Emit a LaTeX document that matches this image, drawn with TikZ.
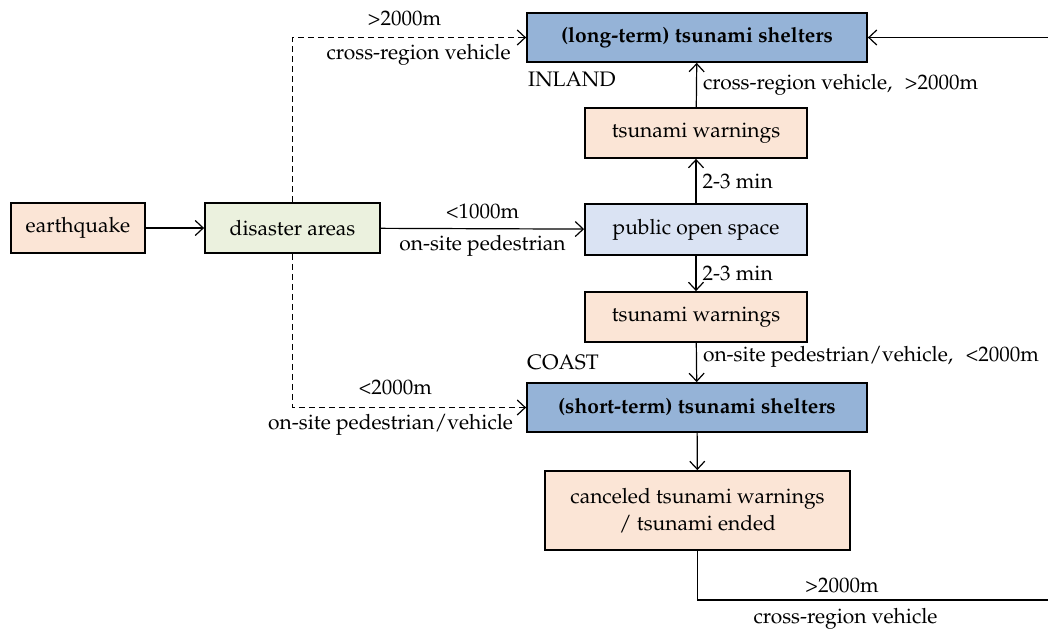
\documentclass[tikz,border=0pt]{standalone}
\usepackage[T1]{fontenc}
\renewcommand{\rmdefault}{ppl}
\usetikzlibrary{arrows.meta}
\definecolor{orfill}{HTML}{FBE5D6}
\definecolor{grfill}{HTML}{EBF1DE}
\definecolor{lbfill}{HTML}{DAE3F3}
\definecolor{shfill}{HTML}{95B3D7}
\tikzset{
  box/.style={draw=black, line width=1.8pt, inner sep=0pt, align=center, font=\fontsize{21}{27}\selectfont},
  lbl/.style={inner sep=0pt, font=\fontsize{21}{25}\selectfont},
  conn/.style={line width=1.2pt, -{Straight Barb[length=8pt,width=15pt,line width=1.2pt]}},
  dconn/.style={conn, dash pattern=on 6pt off 4pt},
}
\begin{document}
\begin{tikzpicture}[x=1pt,y=-1pt]
\useasboundingbox (0,0) rectangle (1048,635);
\node[box, fill=orfill, minimum width=134pt, minimum height=50pt] (eq) at (78,228) {earthquake};
\node[box, fill=grfill, minimum width=175pt, minimum height=50pt] (da) at (292.5,228) {disaster areas};
\node[box, fill=lbfill, minimum width=222pt, minimum height=51pt] (pos) at (696,229.5) {public open space};
\node[box, fill=orfill, minimum width=222pt, minimum height=50pt] (tw1) at (696,133) {tsunami warnings};
\node[box, fill=orfill, minimum width=222pt, minimum height=50pt] (tw2) at (696,317) {tsunami warnings};
\node[box, fill=shfill, minimum width=340pt, minimum height=49pt, font=\fontsize{21}{27}\selectfont\bfseries] (lt) at (697,37.5) {(long-term) tsunami shelters};
\node[box, fill=shfill, minimum width=340pt, minimum height=49pt, font=\fontsize{21}{27}\selectfont\bfseries] (st) at (697,407.5) {(short-term) tsunami shelters};
\node[box, fill=orfill, minimum width=305pt, minimum height=79pt] (cw) at (697.5,510.5) {canceled tsunami warnings\\/ tsunami ended};

\node[lbl, anchor=west] (inland) at (528,79) {INLAND};
\node[lbl, anchor=west] (coast) at (527,362) {COAST};

\coordinate (dtop) at (292.5,37.5);
\coordinate (dbot) at (292.5,407.5);
\coordinate (c1) at (697.5,600);
\coordinate (c2) at (1050,600);
\coordinate (c3) at (1050,37.5);

\draw[conn] (eq) -- (da);
\draw[conn] (da) -- node[lbl, above=9pt]{<1000m} node[lbl, below=6pt]{on-site pedestrian} (pos);
\draw[dconn] (da.north) -- (dtop) -- node[lbl, above=11pt, pos=0.48]{>2000m} node[lbl, below=6pt, pos=0.54]{cross-region vehicle} (lt.west);
\draw[dconn] (da.south) -- (dbot) -- node[lbl, above=12pt, pos=0.44]{<2000m} node[lbl, below=6pt, pos=0.42]{on-site pedestrian/vehicle} (st.west);
\draw[conn] (pos) -- node[lbl, right=6pt]{2-3 min} (tw1);
\draw[conn] (tw1) -- node[lbl, right=6pt]{cross-region vehicle,\hspace{0.6em}>2000m} (lt);
\draw[conn] (pos) -- node[lbl, right=6pt]{2-3 min} (tw2);
\draw[conn] (tw2) -- node[lbl, right=6pt, pos=0.35]{on-site pedestrian/vehicle,\hspace{0.6em}<2000m} (st);
\draw[conn] (st) -- (cw);
\draw[conn] (cw.south) -- (c1) -- node[lbl, above=6pt, pos=0.41]{>2000m} node[lbl, below=8pt, pos=0.42]{cross-region vehicle} (c2) -- (c3) -- (lt.east);
\end{tikzpicture}
\end{document}
